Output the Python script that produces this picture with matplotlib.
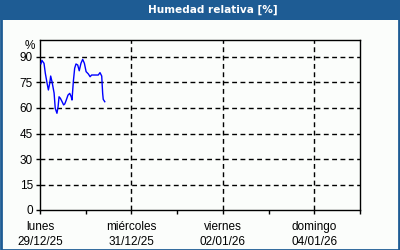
import matplotlib
matplotlib.use("Agg")
import matplotlib.pyplot as plt
from matplotlib.patches import Rectangle

# hours since Monday 29/12/25 00:00
hours = [0.5, 1.0, 2.1, 2.8, 3.7, 4.4, 5.1, 5.6, 6.3, 7.4, 8.0, 8.9, 9.5, 10.0,
         10.7, 11.6, 12.4, 13.0, 13.8, 14.7, 15.6, 16.4, 16.8, 17.5, 18.2, 18.9,
         19.8, 20.6, 21.5, 22.4, 23.3, 24.2, 25.4, 26.3, 27.1, 30.6, 31.5, 32.4,
         32.9, 33.2, 34.0]
humidity = [86, 88, 86.3, 80.4, 74.7, 70.6, 74.5, 78.8, 75.5, 68.8, 59.8, 56.9,
            60.8, 66.6, 65.7, 63.7, 61.8, 62.4, 64.7, 67.6, 68.6, 66.6, 64.7,
            75.5, 83.4, 85.9, 85.3, 81.9, 86.3, 88.6, 86.3, 81.4, 80.0, 78.4,
            79.4, 79.4, 80.8, 78.8, 68.6, 65.1, 63.7]
day_names = ["lunes", "miércoles", "viernes", "domingo"]
day_dates = ["29/12/25", "31/12/25", "02/01/26", "04/01/26"]
y_ticks = [0, 15, 30, 45, 60, 75, 90]
title = "Humedad relativa [%]"

BLUE = "#1e5c94"
W, H = 400, 250
FONT = "Liberation Sans"
fig = plt.figure(figsize=(W / 100, H / 100), dpi=100)
fig.patch.set_facecolor("#fbfdfb")

# title bar and border
fig.patches.append(Rectangle((0, 1 - 20 / H), 1, 20 / H, transform=fig.transFigure,
                             facecolor=BLUE, edgecolor="none", zorder=0))
fig.patches.append(Rectangle((0.5 / W, 0.5 / H), 1 - 2 / W, 1 - 1.5 / H,
                             transform=fig.transFigure, facecolor="none",
                             edgecolor=BLUE, linewidth=2, zorder=1))
fig.text(213 / W, 1 - 10 / H, title, color="white", fontweight="bold",
         fontsize=7.6, ha="center", va="center", family="DejaVu Sans")

ax = fig.add_axes([40 / W, 40 / H, 320 / W, 170 / H])
ax.set_facecolor("#fbfdfb")
days = [h / 24 for h in hours]
ax.plot(days, humidity, color="#0000ff", linewidth=1, zorder=3)

ax.set_xlim(0, 7)
ax.set_ylim(0, 100)
ax.set_yticks(y_ticks)
ax.set_yticklabels([str(v) for v in y_ticks], family=FONT, fontsize=8.5)
ax.set_xticks([0, 2, 4, 6])
ax.set_xticklabels([f"{n}\n{d}" for n, d in zip(day_names, day_dates)],
                   family=FONT, fontsize=8.5, linespacing=1.35)
ax.set_xticks([1, 3, 5, 7], minor=True)
ax.tick_params(axis="both", which="both", direction="out", length=3, width=1,
               color="black", pad=2)
ax.tick_params(axis="x", which="major", pad=5)
for s in ax.spines.values():
    s.set_linewidth(1)
    s.set_color("black")

for v in y_ticks[1:]:
    ax.axhline(v, color="black", linestyle=(0, (3.5, 2.5)), linewidth=1, zorder=1)
for d in [2, 4, 6]:
    ax.axvline(d, color="black", linestyle=(0, (3.5, 2.5)), linewidth=1, zorder=1)

fig.text(30 / W, 1 - 46 / H, "%", fontsize=8.5, ha="center", va="center",
         family=FONT)

fig.savefig("out.png", dpi=100, facecolor=fig.get_facecolor())
